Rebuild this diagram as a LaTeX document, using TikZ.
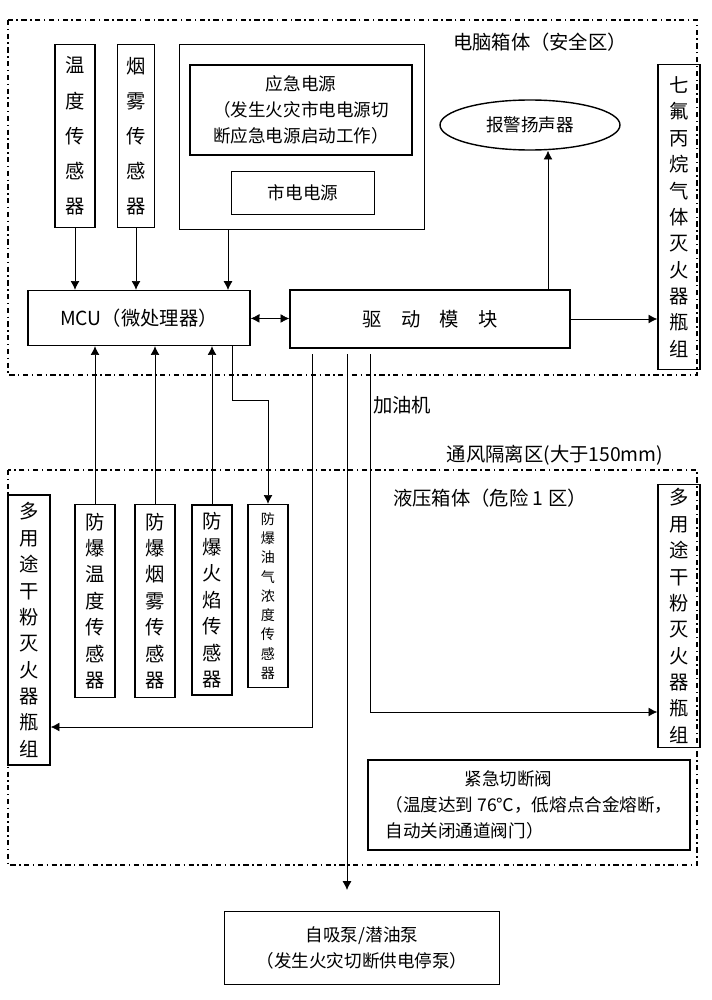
\documentclass[tikz,border=0pt]{standalone}
\usepackage{fontspec}
\setmainfont{Noto Sans CJK SC}
\usetikzlibrary{arrows.meta,shapes.geometric}
\newdimen\px \px=0.02cm
\begin{document}
\begin{tikzpicture}[x=0.02cm,y=-0.02cm,>={Latex[length=5pt,width=5pt]},
  box/.style={draw,thick,inner sep=0pt,align=center,font=\fontsize{10}{15}\selectfont},
  vbox/.style={box,font=\fontsize{11}{15}\selectfont},
  zone/.style={draw,thick,dash dot},
  lbl/.style={font=\fontsize{11}{14}\selectfont}]
\useasboundingbox (0,0) rectangle (712,1000);
% zones
\draw[zone] (8,20) rectangle (697,375);
\draw[zone] (8,470) rectangle (697,865);
\node[lbl] (pc) at (540,42) {电脑箱体（安全区）};
\node[lbl] (gap) at (555,455) {通风隔离区(大于150mm)};
\node[lbl] (hyd) at (490,498) {液压箱体（危险 1 区）};
\node[lbl] (fuel) at (402,405) {加油机};
% upper box
\node[vbox,font=\fontsize{11}{20}\selectfont,minimum width=40\px,minimum height=183\px] (temp) at (75,136) {温\\度\\传\\感\\器};
\node[vbox,font=\fontsize{11}{20}\selectfont,minimum width=37\px,minimum height=183\px] (smoke) at (136,136) {烟\\雾\\传\\感\\器};
\node[box,minimum width=245\px,minimum height=185\px] (power) at (302,137) {};
\node[box,minimum width=222\px,minimum height=90\px] (emerg) at (301,110) {应急电源\\（发生火灾市电电源切\\断应急电源启动工作）};
\node[box,minimum width=143\px,minimum height=43\px] (grid) at (303,193) {市电电源};
\node[box,ellipse,minimum width=180\px,minimum height=50\px] (alarm) at (530,125) {报警扬声器};
\node[vbox,minimum width=42\px,minimum height=305\px] (hfc) at (679,217) {七\\氟\\丙\\烷\\气\\体\\灭\\火\\器\\瓶\\组};
\node[box,font=\fontsize{11}{14}\selectfont,minimum width=222\px,minimum height=55\px] (mcu) at (139,318) {MCU（微处理器）};
\node[box,font=\fontsize{11}{14}\selectfont,minimum width=280\px,minimum height=58\px] (drive) at (430,319) {驱\quad 动\quad 模\quad 块};
% lower box
\node[vbox,minimum width=42\px,minimum height=270\px] (pwl) at (29,630) {多\\用\\途\\干\\粉\\灭\\火\\器\\瓶\\组};
\node[vbox,minimum width=42\px,minimum height=263\px] (pwr) at (679,616) {多\\用\\途\\干\\粉\\灭\\火\\器\\瓶\\组};
\node[vbox,minimum width=40\px,minimum height=193\px] (etemp) at (95,601) {防\\爆\\温\\度\\传\\感\\器};
\node[vbox,minimum width=40\px,minimum height=193\px] (esmoke) at (155,601) {防\\爆\\烟\\雾\\传\\感\\器};
\node[vbox,minimum width=40\px,minimum height=190\px] (eflame) at (212,600) {防\\爆\\火\\焰\\传\\感\\器};
\node[box,minimum width=40\px,minimum height=183\px,font=\fontsize{8}{11}\selectfont] (egas) at (268,596) {防\\爆\\油\\气\\浓\\度\\传\\感\\器};
\node[box,minimum width=322\px,minimum height=90\px,align=left] (valve) at (529,805) {\hspace*{4.5em}紧急切断阀\\（温度达到 76℃，低熔点合金熔断，\\自动关闭通道阀门）};
\node[box,minimum width=275\px,minimum height=73\px] (pump) at (362,948) {自吸泵/潜油泵\\（发生火灾切断供电停泵）};
% connectors
\draw[->] (temp.south) -- (temp.south|-mcu.north);
\draw[->] (smoke.south) -- (smoke.south|-mcu.north);
\draw[->] (228,230) -- (228,290);
\draw[<->] (mcu) -- (drive);
\draw[->] (548,290) -- (alarm.south-|548,0);
\draw[->] (drive.east) -- (drive.east-|hfc.west);
\draw[->] (etemp.north) -- (etemp.north|-mcu.south);
\draw[->] (esmoke.north) -- (esmoke.north|-mcu.south);
\draw[->] (eflame.north) -- (eflame.north|-mcu.south);
\draw[->] (232,345) -- (232,400) -| (egas.north);
\draw[->] (312,354) -- (312,727) -- (312,727-|pwl.east);
\draw[->] (370,354) -- (370,712) -- (370,712-|pwr.west);
\coordinate (pumpin) at (347,890);
\draw[->] (347,354) -- (pumpin);
\end{tikzpicture}
\end{document}
